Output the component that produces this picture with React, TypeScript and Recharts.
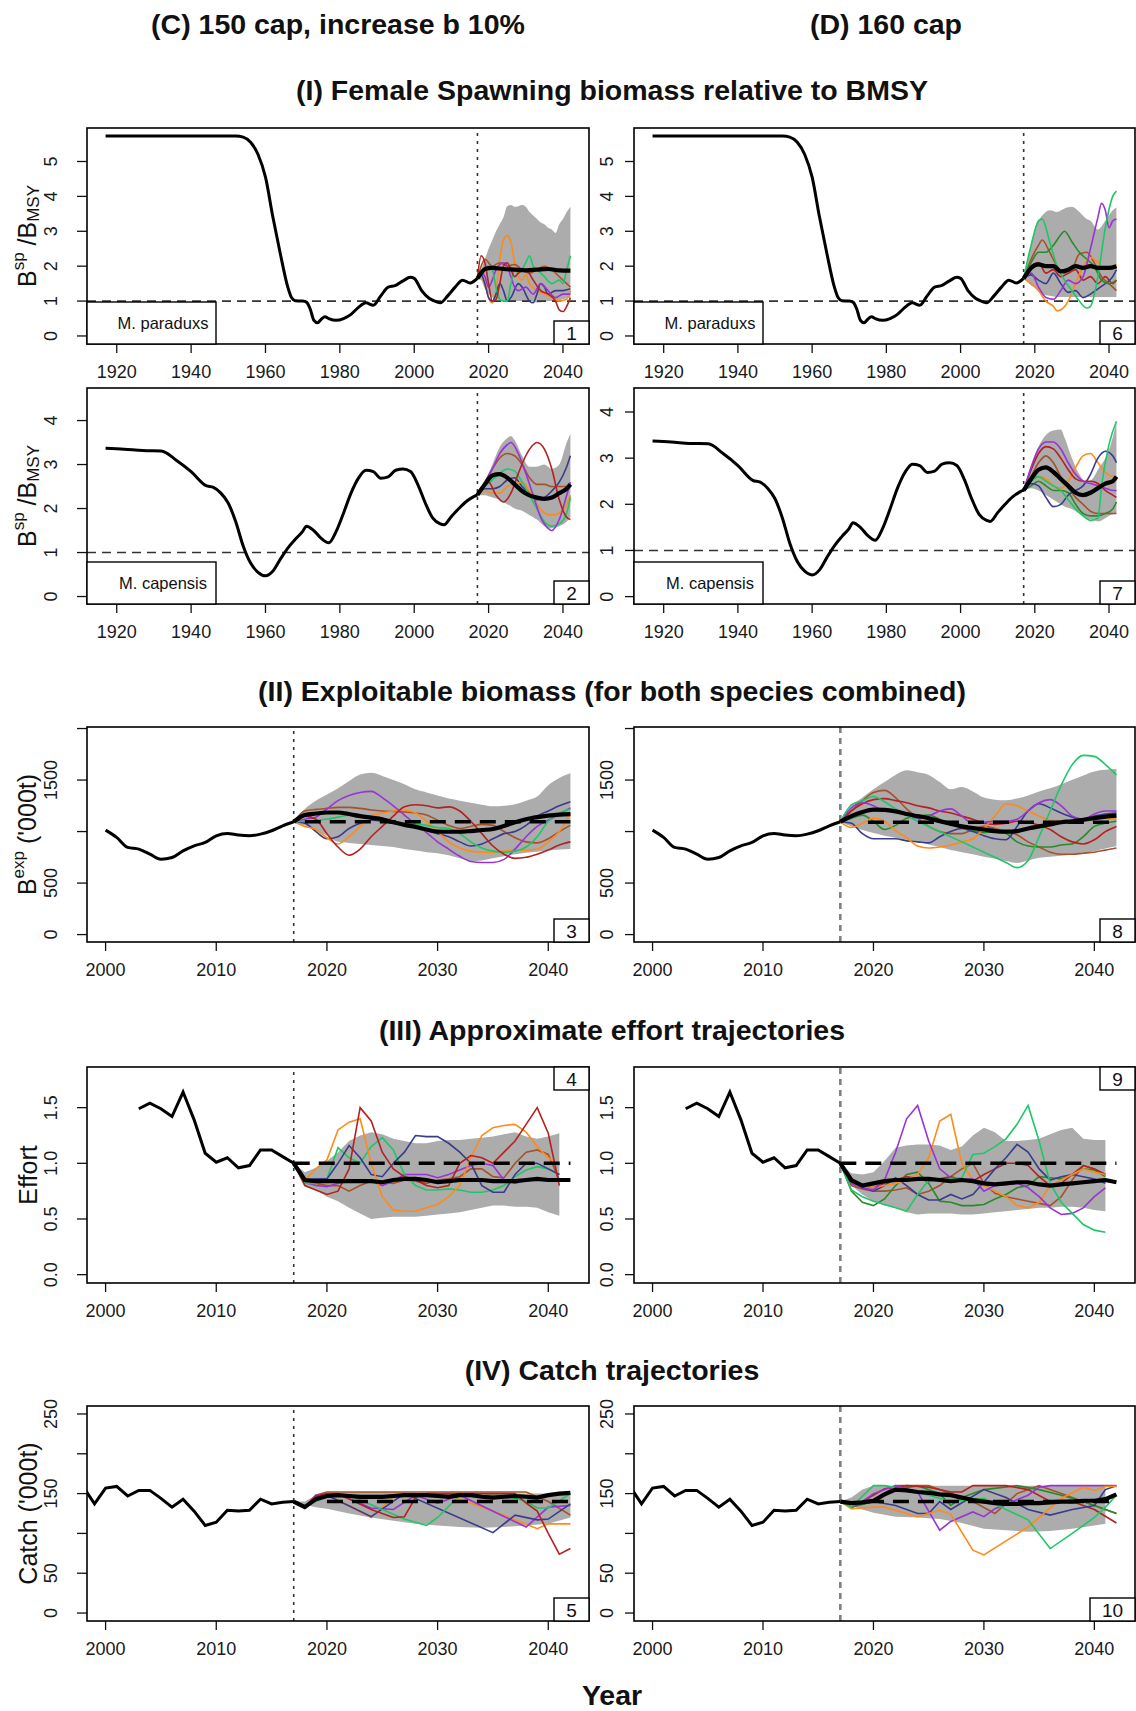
import React from "react";
import { Area, ComposedChart, Line, ReferenceLine, XAxis, YAxis } from "recharts";

type Pt = [number, number];
type Band = [number, number, number];

const FONT = '"Liberation Sans", Arial, Helvetica, sans-serif';

const ORANGE = "#ff8a17";
const GREEN = "#1dc766";
const DKGREEN = "#2a8a2a";
const RED = "#b52020";
const BROWN = "#a5522a";
const PURPLE = "#9a33d6";
const NAVY = "#3b3b8c";
const BAND = "#acacac";

// ticks
const longYears = [1920, 1940, 1960, 1980, 2000, 2020, 2040];
const shortYears = [2000, 2010, 2020, 2030, 2040];
const parTicks = [0, 1, 2, 3, 4, 5];
const parLabels = ["0", "1", "2", "3", "4", "5"];
const capTicks = [0, 1, 2, 3, 4];
const capLabels = ["0", "1", "2", "3", "4"];
const expTicks = [0, 500, 1000, 1500, 2000];
const expLabels = ["0", "500", "", "1500", ""];
const effTicks = [0, 0.5, 1, 1.5];
const effLabels = ["0.0", "0.5", "1.0", "1.5"];
const catTicks = [0, 50, 100, 150, 200, 250];
const catLabels = ["0", "50", "", "150", "", "250"];

// historical assessments (shared by both scenarios)
const histParaduxs: Pt[] = [[1917,5.73],[1925,5.73],[1935,5.73],[1945,5.73],[1952,5.73],[1954,5.7],[1956,5.55],[1958,5.2],[1960,4.55],[1962,3.4],[1964,2.35],[1966,1.4],[1967,1.1],[1968,1.01],[1970,1.0],[1971,0.97],[1972,0.78],[1973,0.45],[1974,0.38],[1975,0.48],[1976,0.55],[1977,0.5],[1979,0.45],[1981,0.5],[1983,0.62],[1985,0.82],[1987,0.95],[1989,0.88],[1991,1.15],[1993,1.4],[1995,1.45],[1997,1.58],[1999,1.68],[2000,1.65],[2002,1.3],[2004,1.08],[2006,0.98],[2007,0.95],[2009,1.15],[2011,1.4],[2013,1.6],[2015,1.52],[2017,1.65]];
const histCapensis: Pt[] = [[1917,3.37],[1922,3.35],[1927,3.32],[1932,3.31],[1936,3.1],[1940,2.84],[1944,2.52],[1946,2.48],[1948,2.35],[1950,2.12],[1952,1.7],[1954,1.15],[1956,0.76],[1958,0.55],[1960,0.47],[1962,0.58],[1964,0.85],[1966,1.1],[1968,1.3],[1970,1.48],[1971,1.6],[1973,1.5],[1975,1.32],[1977,1.22],[1979,1.48],[1981,1.9],[1983,2.35],[1985,2.69],[1987,2.87],[1989,2.84],[1991,2.69],[1993,2.72],[1995,2.87],[1997,2.9],[1999,2.84],[2001,2.54],[2003,2.12],[2005,1.78],[2007,1.65],[2008,1.63],[2010,1.82],[2012,2.0],[2014,2.16],[2016,2.27],[2017,2.31]];
const histExp: Pt[] = [[2000,1014],[2001,943],[2002,846],[2003,829],[2004,781],[2005,732],[2006,748],[2007,813],[2008,862],[2009,894],[2010,959],[2011,982],[2012,966],[2013,959],[2014,975],[2015,1008],[2016,1056],[2017,1095]];
const histEffort: Pt[] = [[2003,1.49],[2004,1.54],[2005,1.49],[2006,1.42],[2007,1.64],[2008,1.39],[2009,1.09],[2010,1.01],[2011,1.05],[2012,0.96],[2013,0.98],[2014,1.12],[2015,1.12],[2016,1.06],[2017,1.0]];
const histCatch: Pt[] = [[1998,158],[1999,137],[2000,157],[2001,159],[2002,147],[2003,154],[2004,154],[2005,144],[2006,133],[2007,143],[2008,128],[2009,110],[2010,114],[2011,129],[2012,128],[2013,129],[2014,143],[2015,137],[2016,139],[2017,140]];

// panel 1: (C) M. paraduxs
const p1Band: Band[] = [[2017,1.65,1.65],[2018,1.6,1.9],[2019,1.35,2.2],[2020,1.2,2.5],[2021,1.1,2.75],[2022,1.05,3.0],[2023,1.02,3.2],[2024,1.0,3.4],[2025,1.0,3.72],[2026,1.0,3.75],[2027,1.0,3.7],[2028,1.0,3.72],[2029,1.0,3.75],[2030,1.0,3.7],[2031,1.0,3.55],[2032,0.98,3.45],[2033,0.96,3.35],[2034,0.97,3.25],[2035,0.98,3.2],[2036,1.0,3.1],[2037,1.0,3.05],[2038,1.0,2.95],[2039,1.02,3.2],[2040,1.05,3.35],[2041,1.08,3.55],[2042,1.1,3.7]];
const p1Median: Pt[] = [[2017,1.65],[2018,1.8],[2019,1.92],[2021,1.95],[2024,1.92],[2027,1.9],[2030,1.88],[2033,1.9],[2036,1.92],[2039,1.88],[2042,1.87]];
const p1Orange: Pt[] = [[2017,1.65],[2018,1.7],[2019,1.5],[2020,1.1],[2021,0.95],[2022,1.3],[2023,2.2],[2024,2.75],[2025,2.88],[2026,2.7],[2027,2.1],[2028,1.7],[2029,1.6],[2030,1.75],[2031,1.5],[2033,1.3],[2035,1.2],[2037,1.1],[2039,1.0],[2041,1.05],[2042,1.3]];
const p1Green: Pt[] = [[2017,1.65],[2018,1.8],[2020,2.0],[2021,1.9],[2022,1.4],[2023,1.05],[2024,1.0],[2025,1.0],[2026,1.5],[2027,1.9],[2028,1.8],[2030,2.1],[2031,2.3],[2032,2.0],[2033,1.9],[2035,1.7],[2037,1.5],[2039,1.6],[2040,1.5],[2041,1.9],[2042,2.3]];
const p1Red: Pt[] = [[2017,1.65],[2018,2.3],[2019,2.1],[2020,1.5],[2021,1.0],[2022,1.05],[2023,1.5],[2024,2.0],[2025,2.1],[2026,1.9],[2027,1.7],[2028,1.8],[2030,1.9],[2032,1.6],[2034,1.3],[2036,1.2],[2038,1.0],[2039,0.75],[2040,0.7],[2041,0.85],[2042,1.1]];
const p1Brown: Pt[] = [[2017,1.65],[2018,2.0],[2019,2.2],[2021,2.0],[2023,2.1],[2025,2.0],[2027,2.05],[2029,1.9],[2031,1.8],[2033,1.9],[2035,2.0],[2037,1.9],[2039,1.7],[2041,1.5],[2042,1.4]];
const p1Purple: Pt[] = [[2017,1.65],[2018,1.85],[2019,1.7],[2020,1.4],[2021,1.6],[2022,1.9],[2024,2.1],[2025,2.0],[2026,1.7],[2027,1.4],[2028,1.3],[2030,1.4],[2032,1.2],[2034,1.5],[2036,1.3],[2038,1.1],[2040,1.2],[2042,1.2]];
const p1Navy: Pt[] = [[2017,1.65],[2018,1.75],[2019,1.5],[2020,1.1],[2021,1.0],[2022,1.2],[2023,1.5],[2024,1.3],[2025,1.0],[2026,1.1],[2028,1.5],[2029,1.4],[2031,1.0],[2032,0.95],[2033,1.2],[2034,1.5],[2035,1.4],[2036,1.2],[2038,1.3],[2040,1.3],[2042,1.35]];

// panel 2: (C) M. capensis
const p2Band: Band[] = [[2017,2.31,2.31],[2019,2.3,2.6],[2021,2.25,3.0],[2023,2.2,3.4],[2025,2.1,3.6],[2026,2.05,3.65],[2027,2.0,3.55],[2029,1.95,3.2],[2031,1.85,2.95],[2033,1.75,2.95],[2035,1.6,3.0],[2037,1.55,2.9],[2039,1.6,3.0],[2041,1.7,3.5],[2042,1.8,3.7]];
const p2Median: Pt[] = [[2017,2.31],[2019,2.55],[2021,2.75],[2023,2.78],[2025,2.7],[2027,2.55],[2029,2.4],[2031,2.3],[2033,2.25],[2035,2.22],[2037,2.25],[2039,2.35],[2041,2.45],[2042,2.55]];
const p2Orange: Pt[] = [[2017,2.31],[2019,2.4],[2021,2.35],[2023,2.35],[2025,2.5],[2027,2.55],[2029,2.6],[2031,2.4],[2033,2.1],[2035,1.9],[2037,1.85],[2039,1.9],[2041,2.1],[2042,2.3]];
const p2Red: Pt[] = [[2017,2.31],[2019,2.55],[2020,2.6],[2022,2.3],[2024,2.15],[2026,2.35],[2028,2.8],[2030,3.2],[2032,3.45],[2033,3.5],[2035,3.35],[2037,2.9],[2039,2.2],[2041,1.8],[2042,1.75]];
const p2Brown: Pt[] = [[2017,2.31],[2019,2.6],[2021,2.9],[2023,3.15],[2025,3.25],[2027,3.2],[2029,3.0],[2031,2.7],[2033,2.55],[2035,2.55],[2037,2.5],[2039,2.5],[2041,2.5],[2042,2.5]];
const p2Purple: Pt[] = [[2017,2.31],[2019,2.6],[2021,2.9],[2023,3.25],[2025,3.45],[2026,3.5],[2028,3.25],[2030,2.8],[2032,2.3],[2034,1.8],[2036,1.55],[2037,1.5],[2039,1.75],[2041,2.3],[2042,2.6]];
const p2Green: Pt[] = [[2017,2.31],[2019,2.5],[2021,2.65],[2023,2.8],[2025,2.9],[2027,2.85],[2029,2.6],[2031,2.3],[2033,2.0],[2035,1.7],[2037,1.6],[2039,1.65],[2041,1.9],[2042,2.25]];
const p2Navy: Pt[] = [[2017,2.31],[2019,2.45],[2021,2.45],[2023,2.5],[2025,2.65],[2027,2.7],[2029,2.5],[2031,2.35],[2033,2.2],[2035,2.25],[2037,2.4],[2039,2.6],[2041,2.95],[2042,3.2]];

// panel 3: (C) exploitable biomass
const p3Band: Band[] = [[2017,1095,1095],[2018,1060,1220],[2019,1010,1300],[2020,960,1360],[2021,900,1420],[2022,890,1490],[2023,880,1555],[2024,870,1570],[2025,860,1540],[2026,850,1500],[2027,830,1460],[2028,815,1410],[2029,800,1380],[2030,790,1350],[2031,770,1320],[2032,740,1300],[2033,715,1280],[2034,720,1260],[2035,740,1245],[2036,760,1250],[2037,780,1265],[2038,795,1300],[2039,805,1340],[2040,815,1450],[2041,825,1520],[2042,830,1565]];
const p3Median: Pt[] = [[2017,1095],[2018,1160],[2019,1175],[2020,1185],[2021,1185],[2022,1170],[2023,1150],[2024,1135],[2025,1120],[2026,1090],[2027,1065],[2028,1045],[2029,1020],[2030,1000],[2031,998],[2032,998],[2033,1005],[2034,1015],[2035,1025],[2036,1055],[2037,1090],[2038,1120],[2039,1140],[2040,1155],[2041,1165],[2042,1170]];
const p3Target: Pt[] = [[2018,1095],[2042,1095]];
const p3Orange: Pt[] = [[2017,1095],[2018,1050],[2019,1020],[2020,940],[2021,880],[2022,950],[2023,1050],[2024,1150],[2025,1180],[2026,1200],[2027,1210],[2028,1180],[2029,1100],[2030,1000],[2031,900],[2032,840],[2033,810],[2034,800],[2035,800],[2036,810],[2037,820],[2038,820],[2039,830],[2040,900],[2041,1000],[2042,1180]];
const p3Red: Pt[] = [[2017,1095],[2018,1150],[2019,1120],[2020,980],[2021,850],[2022,770],[2023,830],[2024,950],[2025,1050],[2026,1150],[2027,1240],[2028,1260],[2029,1250],[2030,1230],[2031,1240],[2032,1200],[2033,1100],[2034,980],[2035,860],[2036,780],[2037,740],[2038,750],[2039,780],[2040,820],[2041,870],[2042,900]];
const p3Purple: Pt[] = [[2017,1095],[2018,1120],[2019,1140],[2020,1220],[2021,1300],[2022,1350],[2023,1380],[2024,1390],[2025,1330],[2026,1250],[2027,1160],[2028,1070],[2029,990],[2030,900],[2031,830],[2032,760],[2033,710],[2034,700],[2035,700],[2036,730],[2037,830],[2038,950],[2039,1050],[2040,1110],[2041,1170],[2042,1230]];
const p3Brown: Pt[] = [[2017,1095],[2018,1200],[2019,1215],[2020,1225],[2021,1235],[2022,1235],[2023,1225],[2024,1210],[2025,1200],[2026,1195],[2027,1190],[2028,1180],[2029,1160],[2030,1110],[2031,1060],[2032,1030],[2033,1050],[2034,1070],[2035,1060],[2036,1000],[2037,940],[2038,900],[2039,890],[2040,930],[2041,1000],[2042,1060]];
const p3Navy: Pt[] = [[2017,1095],[2018,1080],[2019,1000],[2020,930],[2021,950],[2022,1030],[2023,1080],[2024,1110],[2025,1100],[2026,1080],[2027,1060],[2028,1040],[2029,1010],[2030,980],[2031,950],[2032,900],[2033,860],[2034,880],[2035,930],[2036,980],[2037,1000],[2038,1060],[2039,1150],[2040,1200],[2041,1250],[2042,1290]];
const p3Green: Pt[] = [[2017,1095],[2018,1100],[2019,1110],[2020,1120],[2021,1140],[2022,1160],[2023,1150],[2024,1130],[2025,1110],[2026,1090],[2027,1080],[2028,1070],[2029,1060],[2030,1040],[2031,1030],[2032,980],[2033,900],[2034,840],[2035,810],[2036,800],[2037,810],[2038,850],[2039,950],[2040,1100],[2041,1180],[2042,1220]];

// panel 4: (C) effort
const p4Band: Band[] = [[2017,1.0,1.0],[2018,0.8,0.92],[2019,0.76,0.96],[2020,0.7,1.02],[2021,0.66,1.1],[2022,0.6,1.2],[2023,0.55,1.25],[2024,0.5,1.28],[2025,0.51,1.26],[2026,0.52,1.22],[2027,0.52,1.2],[2028,0.52,1.18],[2029,0.53,1.18],[2030,0.54,1.2],[2031,0.55,1.21],[2032,0.56,1.21],[2033,0.58,1.22],[2034,0.6,1.23],[2035,0.62,1.24],[2036,0.62,1.26],[2037,0.61,1.28],[2038,0.61,1.24],[2039,0.6,1.22],[2040,0.56,1.24],[2041,0.53,1.27]];
const p4Median: Pt[] = [[2017,1.0],[2018,0.85],[2019,0.84],[2020,0.84],[2021,0.84],[2022,0.84],[2023,0.84],[2024,0.84],[2025,0.83],[2026,0.85],[2027,0.86],[2028,0.86],[2029,0.85],[2030,0.83],[2031,0.84],[2032,0.85],[2033,0.85],[2034,0.85],[2035,0.84],[2036,0.84],[2037,0.84],[2038,0.85],[2039,0.86],[2040,0.85],[2041,0.85],[2042,0.85]];
const p4Target: Pt[] = [[2017,1.0],[2042,1.0]];
const p4Orange: Pt[] = [[2017,1.0],[2018,0.85],[2019,0.95],[2020,1.03],[2021,1.3],[2022,1.37],[2023,1.4],[2024,1.0],[2025,0.7],[2026,0.58],[2027,0.57],[2028,0.57],[2029,0.6],[2030,0.63],[2031,0.7],[2032,0.8],[2033,1.05],[2034,1.25],[2035,1.32],[2036,1.34],[2037,1.35],[2038,1.28],[2039,1.15],[2040,1.05],[2041,0.98]];
const p4Red: Pt[] = [[2017,1.0],[2018,0.8],[2019,0.76],[2020,0.72],[2021,0.75],[2022,0.95],[2023,1.5],[2024,1.38],[2025,1.1],[2026,0.95],[2027,0.88],[2028,0.85],[2029,0.8],[2030,0.78],[2031,0.8],[2032,1.0],[2033,1.07],[2034,1.05],[2035,1.0],[2036,1.1],[2037,1.2],[2038,1.35],[2039,1.5],[2040,1.27],[2041,0.8]];
const p4Green: Pt[] = [[2017,1.0],[2018,0.82],[2019,0.82],[2020,0.86],[2021,1.14],[2022,1.05],[2023,1.0],[2024,1.15],[2025,1.23],[2026,1.12],[2027,0.9],[2028,0.8],[2029,0.76],[2030,0.76],[2031,0.77],[2032,0.76],[2033,0.74],[2034,0.74],[2035,0.76],[2036,0.8],[2037,0.88],[2038,0.94],[2039,0.97],[2040,0.95],[2041,0.9]];
const p4Navy: Pt[] = [[2017,1.0],[2018,0.85],[2019,0.86],[2020,0.86],[2021,1.0],[2022,1.16],[2023,1.05],[2024,0.9],[2025,0.88],[2026,1.0],[2027,1.1],[2028,1.25],[2029,1.24],[2030,1.24],[2031,1.18],[2032,1.1],[2033,1.0],[2034,0.8],[2035,0.74],[2036,0.74],[2037,0.9],[2038,1.0],[2039,1.0],[2040,0.95],[2041,0.9]];
const p4Purple: Pt[] = [[2017,1.0],[2018,0.83],[2019,0.8],[2020,0.79],[2021,0.82],[2022,0.84],[2023,0.84],[2024,0.84],[2025,0.8],[2026,0.84],[2027,0.9],[2028,0.9],[2029,0.9],[2030,0.87],[2031,0.9],[2032,0.94],[2033,0.98],[2034,1.0],[2035,0.98],[2036,0.85],[2037,0.82],[2038,0.85],[2039,0.86],[2040,0.84],[2041,0.86]];
const p4Brown: Pt[] = [[2017,1.0],[2018,0.83],[2019,0.82],[2020,0.8],[2021,0.8],[2022,0.75],[2023,0.8],[2024,0.84],[2025,0.83],[2026,0.82],[2027,0.85],[2028,0.84],[2029,0.82],[2030,0.85],[2031,0.86],[2032,0.88],[2033,0.95],[2034,0.95],[2035,0.88],[2036,0.87],[2037,1.0],[2038,1.1],[2039,1.12],[2040,1.08],[2041,0.85]];

// panel 5: (C) catch
const p5Band: Band[] = [[2017,140,140],[2018,136,140],[2019,133,148],[2020,131,151],[2022,125,152],[2024,120,152],[2026,116,152],[2028,112,151],[2030,110,151],[2032,108,151],[2034,107,151],[2036,108,151],[2038,110,150],[2040,112,150],[2042,120,150]];
const p5Median: Pt[] = [[2017,140],[2018,133],[2019,143],[2020,147],[2021,148],[2022,147],[2023,146],[2024,146],[2025,146],[2026,147],[2027,148],[2028,148],[2029,148],[2030,147],[2031,146],[2032,148],[2033,148],[2034,146],[2035,145],[2036,146],[2037,147],[2038,146],[2039,145],[2040,148],[2041,150],[2042,151]];
const p5Target: Pt[] = [[2020,140],[2042,140]];
const p5Red: Pt[] = [[2017,140],[2018,133],[2019,147],[2020,150],[2021,150],[2024,130],[2026,120],[2027,121],[2028,145],[2029,150],[2037,150],[2038,138],[2039,128],[2040,100],[2041,74],[2042,81]];
const p5Brown: Pt[] = [[2017,140],[2018,133],[2019,148],[2020,152],[2038,152],[2040,140],[2042,123]];
const p5Green: Pt[] = [[2017,140],[2018,135],[2020,146],[2022,148],[2025,130],[2027,118],[2029,110],[2030,120],[2032,148],[2036,148],[2038,140],[2039,132],[2040,132],[2042,150]];
const p5Navy: Pt[] = [[2017,140],[2018,133],[2019,146],[2020,148],[2024,121],[2027,150],[2035,101],[2037,123],[2039,117],[2040,118],[2042,137]];
const p5Orange: Pt[] = [[2017,140],[2018,135],[2019,145],[2020,148],[2022,135],[2024,120],[2026,146],[2031,148],[2035,128],[2039,106],[2040,112],[2042,112]];
const p5Purple: Pt[] = [[2017,140],[2018,133],[2019,148],[2021,149],[2024,132],[2026,130],[2028,148],[2030,138],[2032,148],[2038,108],[2040,133],[2042,135]];

// panel 6: (D) M. paraduxs
const p6Band: Band[] = [[2017,1.65,1.65],[2018,1.55,2.1],[2019,1.45,2.6],[2020,1.4,3.0],[2021,1.3,3.3],[2022,1.2,3.45],[2024,1.15,3.6],[2026,1.12,3.55],[2028,1.12,3.65],[2030,1.12,3.7],[2032,1.12,3.55],[2034,1.12,3.35],[2035,1.12,3.3],[2037,1.12,3.05],[2039,1.12,3.3],[2041,1.12,3.6],[2042,1.12,3.68]];
const p6Median: Pt[] = [[2017,1.65],[2019,1.95],[2021,2.05],[2023,2.0],[2025,2.0],[2027,1.85],[2029,1.9],[2031,2.0],[2033,1.95],[2035,2.0],[2037,1.95],[2040,1.95],[2042,2.0]];
const p6Green: Pt[] = [[2017,1.65],[2019,2.6],[2021,3.3],[2022,3.35],[2024,2.7],[2026,2.0],[2028,1.6],[2030,1.3],[2032,1.0],[2034,0.8],[2035,0.85],[2037,1.7],[2039,3.1],[2041,4.0],[2042,4.15]];
const p6Purple: Pt[] = [[2017,1.65],[2019,1.8],[2021,1.4],[2023,1.1],[2025,1.05],[2027,1.3],[2029,1.6],[2031,1.5],[2033,1.7],[2035,2.5],[2037,3.4],[2038,3.8],[2039,3.6],[2040,3.1],[2041,3.3],[2042,3.35]];
const p6DkGreen: Pt[] = [[2017,1.65],[2019,2.1],[2021,2.4],[2023,2.4],[2025,2.6],[2027,2.9],[2028,3.0],[2030,2.7],[2032,2.4],[2034,2.2],[2036,2.0],[2038,1.6],[2040,1.5],[2042,1.6]];
const p6Brown: Pt[] = [[2017,1.65],[2019,2.2],[2021,2.6],[2022,2.75],[2024,2.4],[2026,2.0],[2028,1.8],[2030,1.9],[2032,2.35],[2034,2.4],[2036,2.1],[2038,1.7],[2040,1.5],[2042,1.3]];
const p6Red: Pt[] = [[2017,1.65],[2019,2.0],[2021,2.1],[2023,1.8],[2025,1.9],[2027,1.7],[2029,1.8],[2031,1.9],[2033,1.6],[2035,1.7],[2037,1.5],[2039,1.7],[2041,1.5],[2042,1.6]];
const p6Orange: Pt[] = [[2017,1.65],[2019,1.5],[2021,1.3],[2023,1.0],[2025,0.85],[2026,0.72],[2027,0.75],[2029,1.0],[2031,1.5],[2033,2.0],[2035,2.25],[2037,2.1],[2039,1.9],[2041,2.0],[2042,2.05]];
const p6Navy: Pt[] = [[2017,1.65],[2019,1.75],[2021,1.6],[2023,1.5],[2025,1.8],[2027,1.5],[2029,1.25],[2031,1.3],[2033,1.1],[2035,1.2],[2037,1.35],[2039,1.5],[2041,1.7],[2042,1.9]];

// panel 7: (D) M. capensis
const p7Band: Band[] = [[2017,2.3,2.3],[2019,2.35,2.85],[2021,2.3,3.25],[2023,2.2,3.5],[2025,2.1,3.6],[2027,2.0,3.62],[2028,1.95,3.45],[2030,1.9,3.0],[2032,1.8,2.65],[2034,1.7,2.48],[2036,1.65,2.6],[2037,1.63,2.75],[2039,1.7,3.0],[2040,1.75,3.18],[2042,1.8,3.78]];
const p7Median: Pt[] = [[2017,2.3],[2019,2.55],[2021,2.75],[2023,2.8],[2025,2.7],[2027,2.55],[2029,2.4],[2031,2.25],[2033,2.2],[2035,2.25],[2037,2.35],[2039,2.45],[2041,2.5],[2042,2.6]];
const p7Purple: Pt[] = [[2017,2.3],[2019,2.8],[2021,3.2],[2023,3.35],[2025,3.35],[2027,3.2],[2029,2.9],[2031,2.65],[2033,2.5],[2035,2.45],[2037,2.4],[2039,2.35],[2041,2.3],[2042,2.3]];
const p7Red: Pt[] = [[2017,2.3],[2019,2.75],[2021,3.1],[2023,3.25],[2025,3.2],[2027,3.0],[2029,2.75],[2031,2.55],[2033,2.5],[2035,2.5],[2037,2.45],[2039,2.3],[2041,2.2],[2042,2.15]];
const p7Brown: Pt[] = [[2017,2.3],[2019,2.6],[2021,2.9],[2023,3.05],[2025,2.9],[2027,2.6],[2029,2.35],[2031,2.15],[2033,2.0],[2035,1.85],[2037,1.8],[2039,1.8],[2041,1.8],[2042,1.8]];
const p7Orange: Pt[] = [[2017,2.3],[2019,2.5],[2021,2.6],[2023,2.55],[2025,2.4],[2027,2.35],[2029,2.5],[2031,2.8],[2033,3.05],[2035,3.1],[2037,2.9],[2039,2.7],[2041,2.6],[2042,2.6]];
const p7Navy: Pt[] = [[2017,2.3],[2019,2.45],[2021,2.4],[2023,2.15],[2025,1.95],[2027,2.0],[2029,2.2],[2031,2.3],[2033,2.4],[2035,2.65],[2037,3.0],[2039,3.15],[2041,3.05],[2042,2.9]];
const p7DkGreen: Pt[] = [[2017,2.3],[2019,2.4],[2021,2.5],[2023,2.4],[2025,2.3],[2027,2.3],[2029,2.25],[2031,2.0],[2033,1.8],[2035,1.75],[2037,1.75],[2039,1.8],[2041,1.9],[2042,2.05]];
const p7Green: Pt[] = [[2017,2.3],[2019,2.5],[2021,2.6],[2023,2.5],[2025,2.4],[2027,2.3],[2029,2.1],[2031,1.9],[2033,1.75],[2035,1.65],[2037,1.7],[2038,2.4],[2040,3.3],[2042,3.8]];

// panel 8: (D) exploitable biomass
const p8Band: Band[] = [[2017,1095,1095],[2018,1050,1245],[2019,1015,1330],[2020,985,1410],[2021,960,1480],[2022,940,1550],[2023,920,1594],[2024,900,1575],[2025,875,1550],[2026,850,1480],[2027,820,1410],[2028,800,1432],[2029,780,1390],[2030,755,1330],[2031,735,1310],[2032,715,1303],[2033,695,1320],[2034,720,1350],[2035,745,1390],[2036,755,1420],[2037,765,1460],[2038,776,1503],[2039,790,1545],[2040,810,1584],[2041,835,1600],[2042,857,1607]];
const p8Median: Pt[] = [[2017,1095],[2018,1150],[2019,1190],[2020,1212],[2021,1210],[2022,1196],[2023,1170],[2024,1150],[2025,1130],[2026,1100],[2027,1075],[2028,1050],[2029,1035],[2030,1020],[2031,1005],[2032,1000],[2033,1005],[2034,1030],[2035,1050],[2036,1070],[2037,1090],[2038,1100],[2039,1115],[2040,1130],[2041,1145],[2042,1155]];
const p8Target: Pt[] = [[2019.5,1090],[2042,1090]];
const p8Green: Pt[] = [[2017,1095],[2018,1260],[2019,1300],[2020,1340],[2021,1290],[2022,1220],[2023,1160],[2024,1100],[2025,1050],[2026,1000],[2027,950],[2028,900],[2029,850],[2030,800],[2031,750],[2032,700],[2033,650],[2034,720],[2035,950],[2036,1200],[2037,1450],[2038,1650],[2039,1740],[2040,1730],[2041,1650],[2042,1550]];
const p8Brown: Pt[] = [[2017,1095],[2018,1200],[2019,1300],[2020,1380],[2021,1400],[2022,1330],[2023,1220],[2024,1130],[2025,1050],[2026,1000],[2027,980],[2028,980],[2029,1020],[2030,1050],[2031,1030],[2032,1000],[2033,970],[2034,900],[2035,850],[2036,800],[2037,780],[2038,780],[2039,790],[2040,800],[2041,820],[2042,840]];
const p8Red: Pt[] = [[2017,1095],[2018,1200],[2019,1270],[2020,1310],[2021,1320],[2022,1300],[2023,1280],[2024,1250],[2025,1230],[2026,1200],[2027,1180],[2028,1150],[2029,1120],[2030,1080],[2031,1070],[2032,1080],[2033,1100],[2034,1090],[2035,1060],[2036,1020],[2037,950],[2038,900],[2039,880],[2040,920],[2041,1000],[2042,1050]];
const p8Purple: Pt[] = [[2017,1095],[2018,1230],[2019,1280],[2020,1250],[2021,1200],[2022,1190],[2023,1160],[2024,1130],[2025,1150],[2026,1200],[2027,1220],[2028,1150],[2029,1080],[2030,1090],[2031,1100],[2032,1100],[2033,1120],[2034,1200],[2035,1280],[2036,1310],[2037,1250],[2038,1150],[2039,1120],[2040,1170],[2041,1200],[2042,1200]];
const p8Orange: Pt[] = [[2017,1095],[2018,1040],[2019,1080],[2020,1130],[2021,1100],[2022,1010],[2023,940],[2024,860],[2025,840],[2026,850],[2027,870],[2028,900],[2029,930],[2030,1030],[2031,1150],[2032,1270],[2033,1250],[2034,1200],[2035,1150],[2036,1110],[2037,1100],[2038,1100],[2039,1120],[2040,1140],[2041,1130],[2042,1120]];
const p8Navy: Pt[] = [[2017,1095],[2018,1080],[2019,980],[2020,930],[2021,930],[2022,930],[2023,910],[2024,900],[2025,890],[2026,950],[2027,1000],[2028,1030],[2029,1000],[2030,960],[2031,930],[2032,920],[2033,1050],[2034,1200],[2035,1270],[2036,1230],[2037,1180],[2038,1140],[2039,1120],[2040,1150],[2041,1170],[2042,1180]];
const p8DkGreen: Pt[] = [[2017,1095],[2018,1130],[2019,1160],[2020,1100],[2021,1020],[2022,1060],[2023,1130],[2024,1150],[2025,1160],[2026,1120],[2027,1080],[2028,1040],[2029,1010],[2030,990],[2031,1000],[2032,980],[2033,900],[2034,860],[2035,850],[2036,850],[2037,870],[2038,880],[2039,950],[2040,1050],[2041,1080],[2042,1100]];

// panel 9: (D) effort
const p9Band: Band[] = [[2017,1.0,1.0],[2018,0.8,0.91],[2019,0.72,0.9],[2020,0.66,0.92],[2021,0.62,1.02],[2022,0.6,1.14],[2023,0.56,1.16],[2024,0.54,1.17],[2025,0.55,1.17],[2026,0.55,1.16],[2027,0.55,1.12],[2028,0.54,1.15],[2029,0.54,1.25],[2030,0.55,1.32],[2031,0.56,1.28],[2032,0.57,1.2],[2033,0.58,1.2],[2034,0.59,1.21],[2035,0.6,1.22],[2036,0.6,1.26],[2037,0.61,1.3],[2038,0.61,1.32],[2039,0.6,1.22],[2040,0.58,1.21],[2041,0.57,1.21]];
const p9Median: Pt[] = [[2017,1.0],[2018,0.85],[2019,0.8],[2020,0.82],[2021,0.84],[2022,0.85],[2023,0.85],[2024,0.86],[2025,0.86],[2026,0.85],[2027,0.84],[2028,0.85],[2029,0.84],[2030,0.82],[2031,0.81],[2032,0.82],[2033,0.83],[2034,0.83],[2035,0.81],[2036,0.8],[2037,0.81],[2038,0.82],[2039,0.83],[2040,0.84],[2041,0.85],[2042,0.83]];
const p9Target: Pt[] = [[2017,1.0],[2042,1.0]];
const p9Purple: Pt[] = [[2017,1.0],[2018,0.82],[2019,0.78],[2020,0.76],[2021,0.85],[2022,1.1],[2023,1.4],[2024,1.52],[2025,1.2],[2026,0.95],[2027,0.87],[2028,0.85],[2029,0.86],[2030,0.75],[2031,0.8],[2032,0.81],[2033,0.82],[2034,0.78],[2035,0.7],[2036,0.6],[2037,0.54],[2038,0.55],[2039,0.6],[2040,0.7],[2041,0.78]];
const p9Orange: Pt[] = [[2017,1.0],[2018,0.84],[2019,0.8],[2020,0.78],[2021,0.8],[2022,0.82],[2023,0.85],[2024,0.9],[2025,1.05],[2026,1.38],[2027,1.44],[2028,1.0],[2029,0.85],[2030,0.8],[2031,0.75],[2032,0.7],[2033,0.62],[2034,0.6],[2035,0.65],[2036,0.8],[2037,0.85],[2038,0.9],[2039,0.95],[2040,0.92],[2041,0.9]];
const p9Green: Pt[] = [[2017,1.0],[2018,0.76],[2019,0.7],[2020,0.66],[2021,0.63],[2022,0.6],[2023,0.57],[2024,0.72],[2025,0.85],[2026,0.85],[2027,0.86],[2028,0.87],[2029,1.08],[2030,1.09],[2031,1.15],[2032,1.22],[2033,1.35],[2034,1.52],[2035,1.2],[2036,0.82],[2037,0.65],[2038,0.55],[2039,0.45],[2040,0.4],[2041,0.38]];
const p9Navy: Pt[] = [[2017,1.0],[2018,0.84],[2019,0.78],[2020,0.75],[2021,0.8],[2022,0.87],[2023,0.8],[2024,0.72],[2025,0.67],[2026,0.67],[2027,0.72],[2028,0.68],[2029,0.72],[2030,0.83],[2031,0.95],[2032,1.05],[2033,1.17],[2034,1.1],[2035,0.95],[2036,0.85],[2037,0.88],[2038,0.9],[2039,0.88],[2040,0.86],[2041,0.82]];
const p9DkGreen: Pt[] = [[2017,1.0],[2018,0.75],[2019,0.65],[2020,0.62],[2021,0.68],[2022,0.8],[2023,0.9],[2024,0.92],[2025,0.82],[2026,0.66],[2027,0.65],[2028,0.62],[2029,0.62],[2030,0.63],[2031,0.68],[2032,0.72],[2033,0.78],[2034,0.8],[2035,0.88],[2036,0.87],[2037,0.86],[2038,0.9],[2039,0.95],[2040,0.94],[2041,0.88]];
const p9Brown: Pt[] = [[2017,1.0],[2018,0.8],[2019,0.77],[2020,0.75],[2021,0.75],[2022,0.76],[2023,0.78],[2024,0.72],[2025,0.75],[2026,0.8],[2027,0.88],[2028,0.95],[2029,1.0],[2030,0.82],[2031,0.73],[2032,0.7],[2033,0.68],[2034,0.66],[2035,0.64],[2036,0.62],[2037,0.7],[2038,0.85],[2039,0.98],[2040,0.95],[2041,0.9]];
const p9Red: Pt[] = [[2017,1.0],[2018,0.82],[2019,0.8],[2020,0.78],[2021,0.82],[2022,0.85],[2023,0.88],[2024,0.86],[2025,0.84],[2026,0.86],[2027,0.88],[2028,0.85],[2029,0.84],[2030,0.9],[2031,0.95],[2032,1.0],[2033,1.0],[2034,0.98],[2035,0.88],[2036,0.8],[2037,0.82],[2038,0.9],[2039,0.98],[2040,0.95],[2041,0.9]];

// panel 10: (D) catch
const p10Band: Band[] = [[2017,140,140],[2018,135,145],[2019,130,155],[2020,126,160],[2022,121,160],[2024,120,160],[2026,118,160],[2028,113,160],[2030,106,160],[2032,104,160],[2034,102,160],[2036,103,160],[2038,106,160],[2040,110,160],[2041,112,160]];
const p10Median: Pt[] = [[2017,140],[2018,138],[2019,139],[2020,141],[2021,149],[2022,155],[2023,154],[2024,152],[2025,151],[2026,149],[2027,148],[2028,145],[2029,142],[2030,140],[2031,138],[2032,137],[2033,137],[2034,138],[2035,138],[2036,139],[2037,140],[2038,140],[2039,141],[2040,141],[2041,143],[2042,149]];
const p10Target: Pt[] = [[2019.5,140],[2042,140]];
const p10Orange: Pt[] = [[2017,140],[2018,131],[2020,133],[2021,133],[2024,121],[2026,129],[2027,124],[2029,79],[2030,73],[2034,108],[2037,144],[2039,158],[2040,154],[2041,159],[2042,159]];
const p10Green: Pt[] = [[2017,140],[2018,133],[2020,160],[2021,160],[2023,155],[2025,148],[2027,140],[2030,144],[2032,130],[2034,117],[2036,81],[2038,100],[2040,120],[2041,133],[2042,148]];
const p10Purple: Pt[] = [[2017,140],[2018,133],[2019,140],[2020,150],[2022,160],[2024,152],[2026,104],[2027,115],[2029,127],[2030,121],[2031,131],[2034,148],[2035,158],[2036,160],[2042,160]];
const p10Navy: Pt[] = [[2017,140],[2018,133],[2019,140],[2020,140],[2022,135],[2024,125],[2025,125],[2026,140],[2027,130],[2030,155],[2032,145],[2034,130],[2036,123],[2038,130],[2040,135],[2041,155],[2042,160]];
const p10Red: Pt[] = [[2017,140],[2018,133],[2019,140],[2021,156],[2023,160],[2025,158],[2027,152],[2028,152],[2029,160],[2032,160],[2034,155],[2036,140],[2038,140],[2040,130],[2042,113]];
const p10Brown: Pt[] = [[2017,140],[2018,133],[2020,140],[2022,160],[2025,160],[2027,150],[2029,140],[2031,125],[2033,150],[2035,160],[2037,150],[2039,140],[2042,125]];
const p10DkGreen: Pt[] = [[2017,140],[2018,133],[2020,140],[2022,155],[2024,160],[2026,150],[2027,135],[2028,145],[2030,155],[2033,160],[2035,155],[2037,148],[2039,140],[2041,130],[2042,125]];

interface PanelDef {
  num: string;
  x: number;
  y: number;
  w: number;
  h: number;
  right: boolean;
  xDomain: [number, number];
  xTicks: number[];
  yDomain: [number, number];
  yTicks: number[];
  yLabels: string[];
  curve: "monotone" | "linear";
  band: Band[];
  colored: [Pt[], string][];
  median: Pt[];
  hist: Pt[];
  target?: Pt[];
  bmsy?: boolean;
  species?: string;
  numTop?: boolean;
  grayVline?: boolean;
}

const LX = 87;
const LW = 502;
const RX = 634;
const RW = 501;
const LONG: [number, number] = [1912, 2047];
const SHORT: [number, number] = [1998.32, 2043.68];
const PAR_DOM: [number, number] = [-0.23, 5.96];
const EXP_DOM: [number, number] = [-72, 2015];
const EFF_DOM: [number, number] = [-0.075, 1.865];
const CAT_DOM: [number, number] = [-10, 260];

const panels: PanelDef[] = [
  { num: "1", x: LX, y: 128, w: LW, h: 216, right: false, xDomain: LONG, xTicks: longYears, yDomain: PAR_DOM, yTicks: parTicks, yLabels: parLabels, curve: "monotone", band: p1Band,
    colored: [[p1Orange, ORANGE], [p1Navy, NAVY], [p1Purple, PURPLE], [p1Brown, BROWN], [p1Green, GREEN], [p1Red, RED]], median: p1Median, hist: histParaduxs, bmsy: true, species: "M. paraduxs" },
  { num: "2", x: LX, y: 388, w: LW, h: 216, right: false, xDomain: LONG, xTicks: longYears, yDomain: [-0.17, 4.74], yTicks: capTicks, yLabels: capLabels, curve: "monotone", band: p2Band,
    colored: [[p2Navy, NAVY], [p2Orange, ORANGE], [p2Brown, BROWN], [p2Green, GREEN], [p2Purple, PURPLE], [p2Red, RED]], median: p2Median, hist: histCapensis, bmsy: true, species: "M. capensis" },
  { num: "3", x: LX, y: 727, w: LW, h: 215, right: false, xDomain: SHORT, xTicks: shortYears, yDomain: EXP_DOM, yTicks: expTicks, yLabels: expLabels, curve: "monotone", band: p3Band,
    colored: [[p3Brown, BROWN], [p3Navy, NAVY], [p3Orange, ORANGE], [p3Purple, PURPLE], [p3Green, GREEN], [p3Red, RED]], median: p3Median, hist: histExp, target: p3Target },
  { num: "4", x: LX, y: 1067, w: LW, h: 216, right: false, xDomain: SHORT, xTicks: shortYears, yDomain: EFF_DOM, yTicks: effTicks, yLabels: effLabels, curve: "linear", band: p4Band,
    colored: [[p4Brown, BROWN], [p4Purple, PURPLE], [p4Green, GREEN], [p4Navy, NAVY], [p4Orange, ORANGE], [p4Red, RED]], median: p4Median, hist: histEffort, target: p4Target, numTop: true },
  { num: "5", x: LX, y: 1406, w: LW, h: 215, right: false, xDomain: SHORT, xTicks: shortYears, yDomain: CAT_DOM, yTicks: catTicks, yLabels: catLabels, curve: "linear", band: p5Band,
    colored: [[p5Brown, BROWN], [p5Orange, ORANGE], [p5Purple, PURPLE], [p5Navy, NAVY], [p5Green, GREEN], [p5Red, RED]], median: p5Median, hist: histCatch, target: p5Target },
  { num: "6", x: RX, y: 128, w: RW, h: 216, right: true, xDomain: LONG, xTicks: longYears, yDomain: PAR_DOM, yTicks: parTicks, yLabels: parLabels, curve: "monotone", band: p6Band,
    colored: [[p6Red, RED], [p6Navy, NAVY], [p6Brown, BROWN], [p6DkGreen, DKGREEN], [p6Orange, ORANGE], [p6Purple, PURPLE], [p6Green, GREEN]], median: p6Median, hist: histParaduxs, bmsy: true, species: "M. paraduxs" },
  { num: "7", x: RX, y: 388, w: RW, h: 216, right: true, xDomain: LONG, xTicks: longYears, yDomain: [-0.16, 4.52], yTicks: capTicks, yLabels: capLabels, curve: "monotone", band: p7Band,
    colored: [[p7DkGreen, DKGREEN], [p7Brown, BROWN], [p7Orange, ORANGE], [p7Navy, NAVY], [p7Red, RED], [p7Purple, PURPLE], [p7Green, GREEN]], median: p7Median, hist: histCapensis, bmsy: true, species: "M. capensis" },
  { num: "8", x: RX, y: 727, w: RW, h: 215, right: true, xDomain: SHORT, xTicks: shortYears, yDomain: EXP_DOM, yTicks: expTicks, yLabels: expLabels, curve: "monotone", band: p8Band,
    colored: [[p8Brown, BROWN], [p8DkGreen, DKGREEN], [p8Red, RED], [p8Navy, NAVY], [p8Orange, ORANGE], [p8Purple, PURPLE], [p8Green, GREEN]], median: p8Median, hist: histExp, target: p8Target, grayVline: true },
  { num: "9", x: RX, y: 1067, w: RW, h: 216, right: true, xDomain: SHORT, xTicks: shortYears, yDomain: EFF_DOM, yTicks: effTicks, yLabels: effLabels, curve: "linear", band: p9Band,
    colored: [[p9Brown, BROWN], [p9DkGreen, DKGREEN], [p9Red, RED], [p9Navy, NAVY], [p9Orange, ORANGE], [p9Purple, PURPLE], [p9Green, GREEN]], median: p9Median, hist: histEffort, target: p9Target, numTop: true, grayVline: true },
  { num: "10", x: RX, y: 1406, w: RW, h: 215, right: true, xDomain: SHORT, xTicks: shortYears, yDomain: CAT_DOM, yTicks: catTicks, yLabels: catLabels, curve: "linear", band: p10Band,
    colored: [[p10Brown, BROWN], [p10DkGreen, DKGREEN], [p10Red, RED], [p10Navy, NAVY], [p10Purple, PURPLE], [p10Orange, ORANGE], [p10Green, GREEN]], median: p10Median, hist: histCatch, target: p10Target, grayVline: true },
];

const YW = 60;
const XH = 45;
const TOP = 24; // room above the plot for the topmost tick label

const toRows = (pts: Pt[]) => pts.map(([x, y]) => ({ x, y }));

function XTick(props: any) {
  const { x, y, payload } = props;
  return (
    <text x={x} y={y} textAnchor="middle" dominantBaseline="central" fontSize={18} fontFamily={FONT} fill="#1a1a1a">
      {payload.value}
    </text>
  );
}

function Panel({ p }: { p: PanelDef }) {
  const bandRows = p.band.map(([x, lo, hi]) => ({ x, range: [lo, hi] }));
  const yTickSize = p.right ? 9 : 10;
  const yTickGap = p.right ? 18 : 26;
  const renderYTick = (props: any) => {
    const { x, y, payload } = props;
    const i = p.yTicks.indexOf(payload.value);
    const label = i >= 0 ? p.yLabels[i] : "";
    return (
      <text x={x} y={y} transform={`rotate(-90 ${x} ${y})`} textAnchor="middle" dominantBaseline="central" fontSize={18} fontFamily={FONT} fill="#1a1a1a">
        {label}
      </text>
    );
  };
  return (
    <div style={{ position: "absolute", left: p.x - YW, top: p.y - TOP }}>
      <ComposedChart width={p.w + YW} height={p.h + XH + TOP} data={bandRows} margin={{ top: TOP, right: 0, bottom: 0, left: 0 }}>
        <XAxis type="number" dataKey="x" domain={p.xDomain} ticks={p.xTicks} allowDataOverflow interval={0} height={XH}
          axisLine={false} tickSize={9} tickMargin={19} tickLine={{ stroke: "#111", strokeWidth: 1.3 }} tick={XTick} />
        <YAxis type="number" domain={p.yDomain} ticks={p.yTicks} allowDataOverflow interval={0} width={YW}
          axisLine={false} tickSize={yTickSize} tickMargin={yTickGap} tickLine={{ stroke: "#111", strokeWidth: 1.3 }} tick={renderYTick} />
        <Area dataKey="range" type={p.curve} stroke="none" fill={BAND} fillOpacity={1} isAnimationActive={false} />
        {p.bmsy && <ReferenceLine y={1} stroke="#333" strokeWidth={1.6} strokeDasharray="9 6" />}
        <ReferenceLine x={2017} stroke={p.grayVline ? "#808080" : "#333"} strokeWidth={p.grayVline ? 2.6 : 1.6} strokeDasharray={p.grayVline ? "6 5" : "3 5"} />
        {p.colored.map(([pts, color], i) => (
          <Line key={i} data={toRows(pts)} dataKey="y" type={p.curve} stroke={color} strokeWidth={1.6} dot={false} activeDot={false} isAnimationActive={false} />
        ))}
        <Line data={toRows(p.median)} dataKey="y" type={p.curve} stroke="#000" strokeWidth={4.2} dot={false} activeDot={false} isAnimationActive={false} />
        {p.target && (
          <Line data={toRows(p.target)} dataKey="y" type="linear" stroke="#000" strokeWidth={3.5} strokeDasharray="16 9" dot={false} activeDot={false} isAnimationActive={false} />
        )}
        <Line data={toRows(p.hist)} dataKey="y" type={p.curve} stroke="#000" strokeWidth={3} dot={false} activeDot={false} isAnimationActive={false} />
      </ComposedChart>
    </div>
  );
}

function Overlay() {
  const title = { fontFamily: FONT, fontWeight: 700, fontSize: 28.5, fill: "#111", textAnchor: "middle" as const, dominantBaseline: "central" as const };
  const ylab = { fontFamily: FONT, fontSize: 25, fill: "#111", textAnchor: "middle" as const, dominantBaseline: "central" as const };
  const yMid = (i: number) => panels[i].y + panels[i].h / 2;
  return (
    <svg width={1136} height={1711} style={{ position: "absolute", left: 0, top: 0, pointerEvents: "none" }}>
      <text x={338} y={24} {...title}>(C) 150 cap, increase b 10%</text>
      <text x={886} y={24} {...title}>(D) 160 cap</text>
      <text x={612} y={90} {...title}>(I) Female Spawning biomass relative to BMSY</text>
      <text x={612} y={691} {...title}>(II) Exploitable biomass (for both species combined)</text>
      <text x={612} y={1030} {...title}>(III) Approximate effort trajectories</text>
      <text x={612} y={1370} {...title}>(IV) Catch trajectories</text>
      <text x={612} y={1695} {...title}>Year</text>

      {[0, 1].map((i) => (
        <text key={i} x={27} y={yMid(i)} transform={`rotate(-90 27 ${yMid(i)})`} {...ylab}>
          B<tspan dy={-9} fontSize={17}>sp</tspan>
          <tspan dy={9}> /B</tspan>
          <tspan dy={6} fontSize={17}>MSY</tspan>
        </text>
      ))}
      <text x={27} y={yMid(2)} transform={`rotate(-90 27 ${yMid(2)})`} {...ylab}>
        B<tspan dy={-9} fontSize={17}>exp</tspan>
        <tspan dy={9}> ('000t)</tspan>
      </text>
      <text x={28} y={yMid(3)} transform={`rotate(-90 28 ${yMid(3)})`} {...ylab}>Effort</text>
      <text x={28} y={yMid(4)} transform={`rotate(-90 28 ${yMid(4)})`} {...ylab}>Catch ('000t)</text>

      {panels.map((p) => {
        const bw = p.num.length > 1 ? 45 : 35;
        const by = p.numTop ? p.y : p.y + p.h - 23;
        return (
          <g key={p.num}>
            <rect x={p.x} y={p.y} width={p.w} height={p.h} fill="none" stroke="#000" strokeWidth={1.6} />
            <rect x={p.x + p.w - bw} y={by} width={bw} height={23} fill="#fff" stroke="#000" strokeWidth={1.4} />
            <text x={p.x + p.w - bw / 2} y={by + 12} textAnchor="middle" dominantBaseline="central" fontSize={19} fontFamily={FONT} fill="#111">{p.num}</text>
            {p.species && (
              <g>
                <rect x={p.x} y={p.y + p.h - 42} width={129} height={42} fill="#fff" stroke="#000" strokeWidth={1.4} />
                <text x={p.x + 76} y={p.y + p.h - 21} textAnchor="middle" dominantBaseline="central" fontSize={16.5} fontFamily={FONT} fill="#111">{p.species}</text>
              </g>
            )}
          </g>
        );
      })}
    </svg>
  );
}

export default function App() {
  return (
    <div style={{ position: "relative", width: 1136, height: 1711, background: "#fff", overflow: "hidden", fontFamily: FONT }}>
      <style>{"body{margin:0}"}</style>
      {panels.map((p) => (
        <Panel key={p.num} p={p} />
      ))}
      <Overlay />
    </div>
  );
}
